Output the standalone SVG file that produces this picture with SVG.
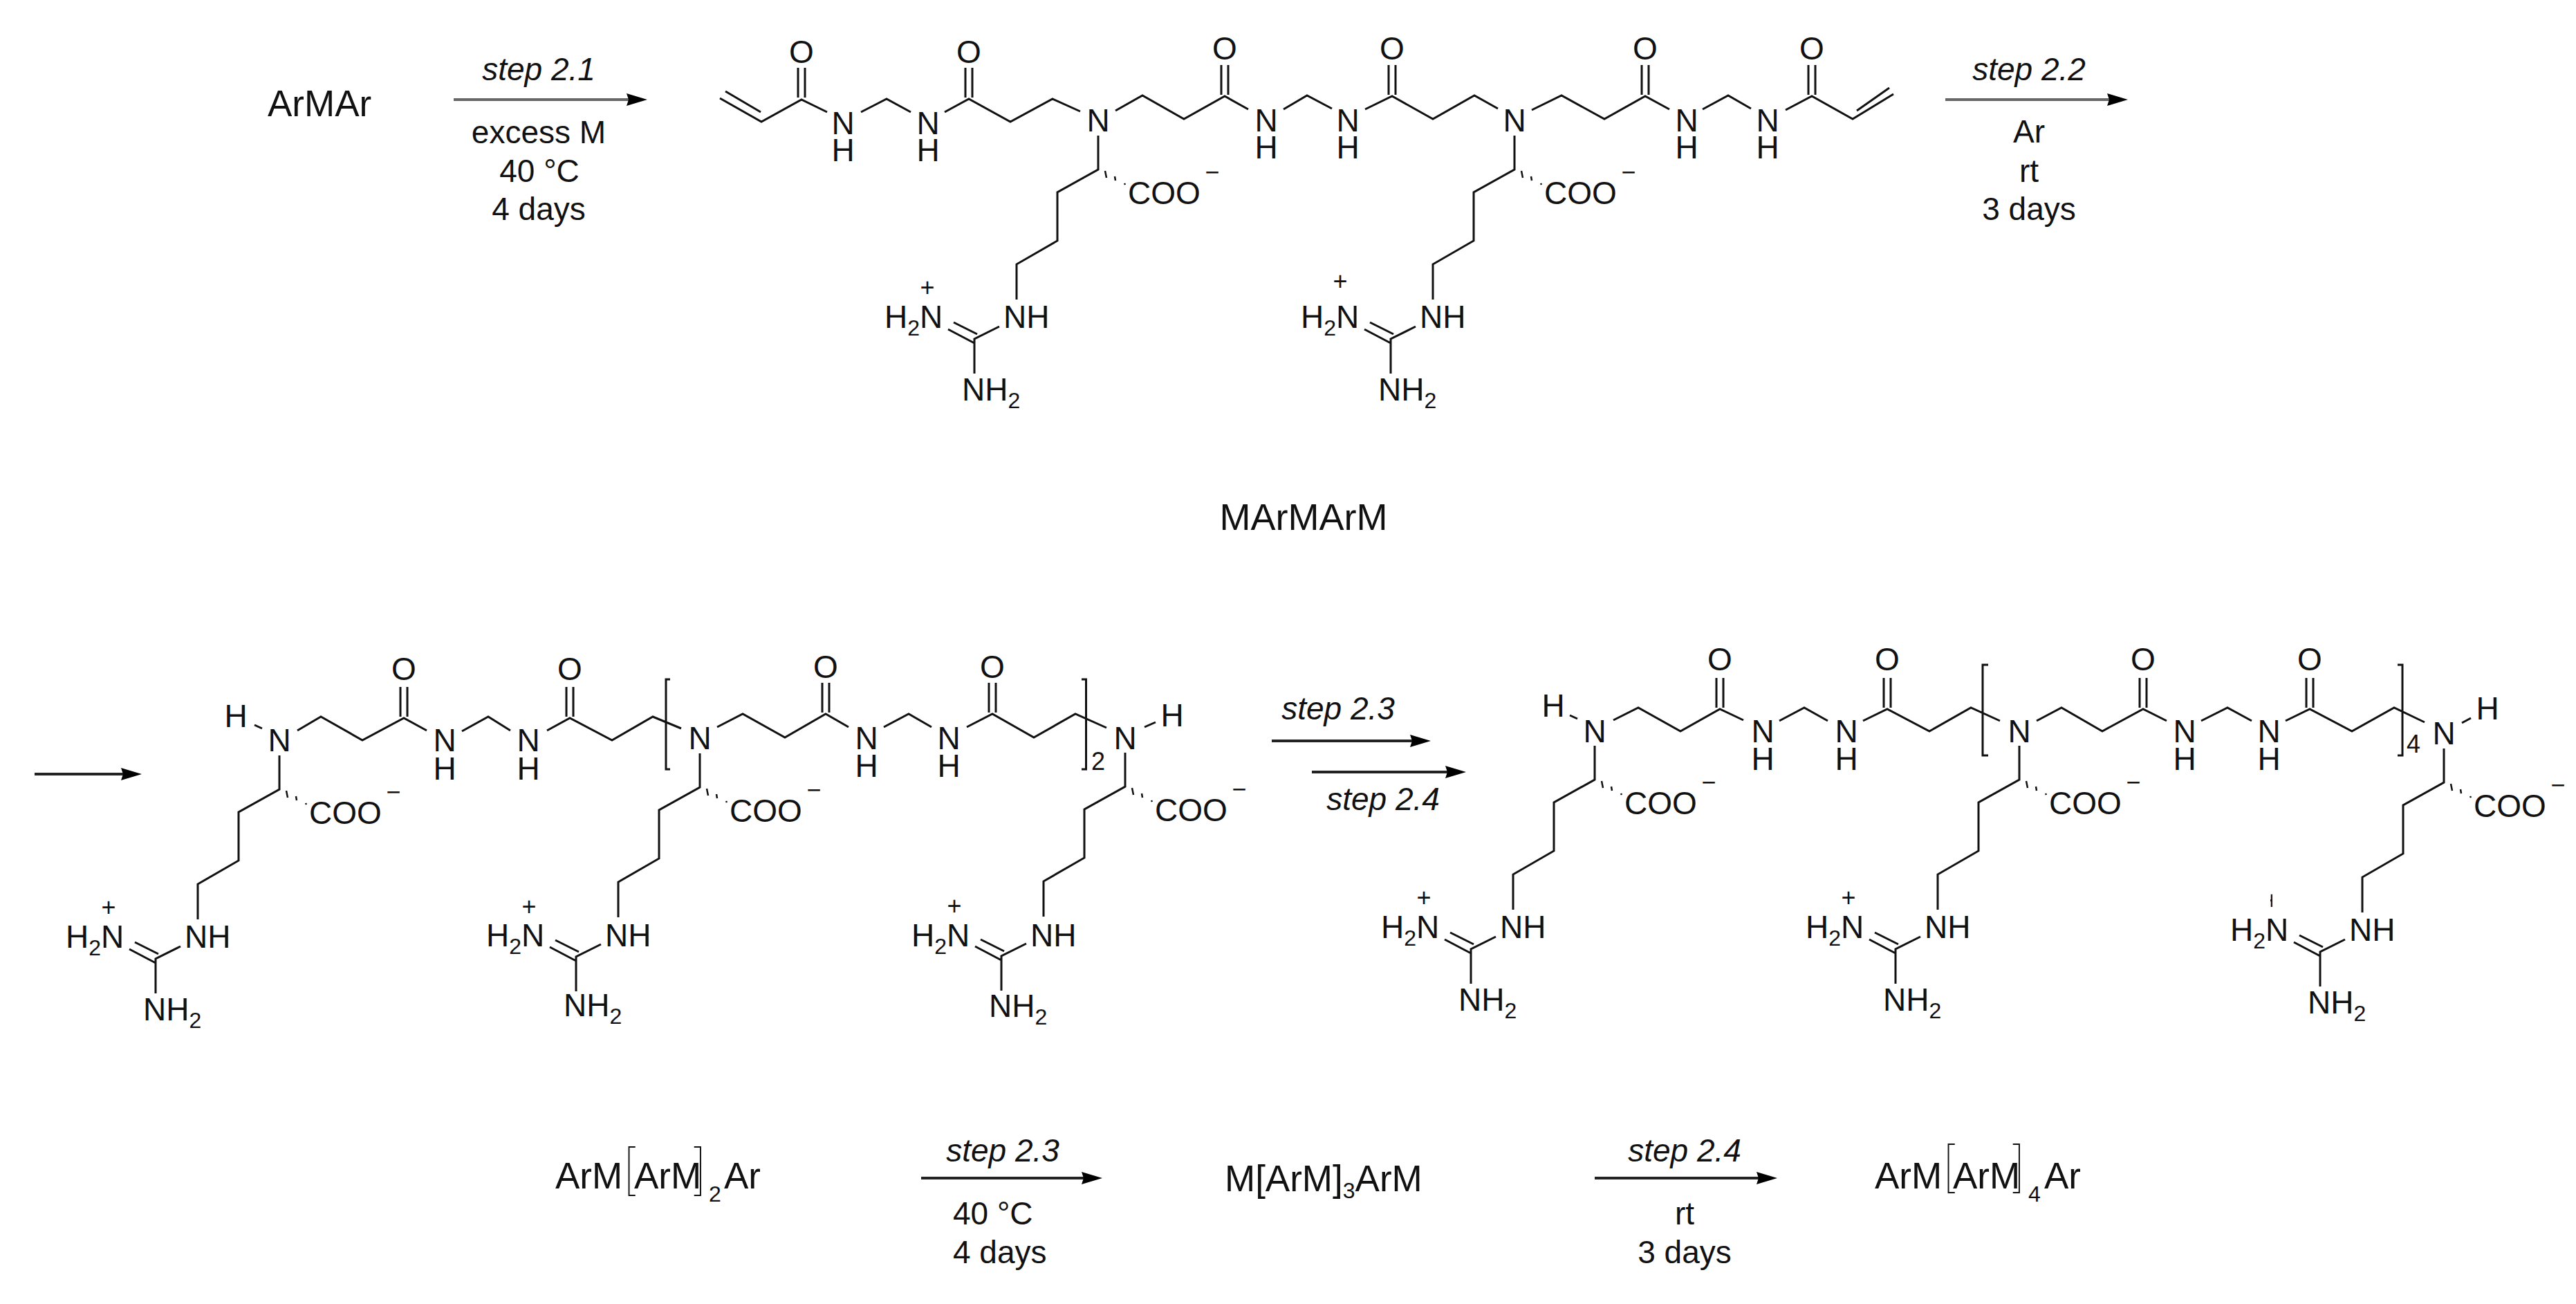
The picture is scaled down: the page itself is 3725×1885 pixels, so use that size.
<svg xmlns="http://www.w3.org/2000/svg" width="3725" height="1885" viewBox="0 0 3725 1885">
<style>
text{font-family:"Liberation Sans",Arial,sans-serif;fill:#111}
.a{font-size:46px}
.m{font-size:46px;text-anchor:middle}
.i{font-size:46px;font-style:italic;text-anchor:middle}
.l{font-size:53px}
.c{font-size:36px;text-anchor:middle}
.t{font-size:32px}
.br{font-size:74px;font-family:Roboto,"Liberation Sans",sans-serif;font-weight:100}
.b{fill:none;stroke:#111;stroke-width:3}
.h{fill:none;stroke:#111;stroke-width:2.5}
.ar{stroke:#222;stroke-width:4;fill:none;marker-end:url(#head)}
.ag{stroke:#666;stroke-width:4;fill:none;marker-end:url(#head)}
</style>
<defs>
<marker id="head" markerUnits="userSpaceOnUse" markerWidth="30" markerHeight="20" viewBox="0 0 30 20" refX="20" refY="10" orient="auto"><path d="M0 1L30 10L0 19L3 10Z" fill="#000"/></marker>
<path id="co" class="b" d="M-5 -46V-3M5 -46V-3"/>
<g id="arg">
<path class="b" d="M0 22V71L-59 104V174L-118 208V259M-143 298L-179 316V366M-209 292L-175 309M-217 302L-179 322"/>
<path class="h" d="M10 73L12 83M24 81L25 87M38 91L39 93"/>
</g>
<clipPath id="tick"><rect x="-251" y="225" width="3" height="32"/></clipPath>
</defs>
<rect width="3725" height="1885" fill="#fff"/>

<g id="connectors">
<line class="ag" x1="656" y1="144" x2="926" y2="144"/>
<line class="ag" x1="2813" y1="144" x2="3067" y2="144"/>
<line class="ar" x1="50" y1="1119" x2="195" y2="1119"/>
<line class="ar" x1="1839" y1="1071" x2="2059" y2="1071"/>
<line class="ar" x1="1897" y1="1116" x2="2110" y2="1116"/>
<line class="ar" x1="1332" y1="1703" x2="1584" y2="1703"/>
<line class="ar" x1="2306" y1="1703" x2="2560" y2="1703"/>
</g>

<g id="label-armar"><text class="l" x="387" y="168">ArMAr</text></g>
<g id="step-2-1">
<text class="i" x="779" y="116">step 2.1</text>
<text class="m" x="779" y="207">excess M</text>
<text class="m" x="780" y="263">40 °C</text>
<text class="m" x="779" y="318">4 days</text>
</g>
<g id="step-2-2">
<text class="i" x="2934" y="116">step 2.2</text>
<text class="m" x="2934" y="206">Ar</text>
<text class="m" x="2934" y="263">rt</text>
<text class="m" x="2934" y="318">3 days</text>
</g>

<g id="mol-marmarm">
<path class="b" d="M1041 142L1101 176L1159 144L1196 162M1049 132L1100 162M1245 162L1282 143L1317 162M1366 162L1401 143L1461 176L1522 143L1562 161M1613 160L1652 138L1712 172L1771 139L1805 158M1856 158L1890 138L1926 157M1974 158L2013 139L2072 172L2132 138L2166 157M2215 159L2258 138L2320 172L2379 139L2414 158M2462 158L2499 138L2532 157M2582 159L2620 139L2679 172L2738 136M2685 160L2732 127"/>
<use href="#co" x="1159" y="144"/><use href="#co" x="1401" y="144"/><use href="#co" x="1771" y="140"/><use href="#co" x="2013" y="140"/><use href="#co" x="2379" y="140"/><use href="#co" x="2620" y="140"/>
<text class="m" x="1159" y="91">O</text><text class="m" x="1401" y="91">O</text><text class="m" x="1771" y="86">O</text><text class="m" x="2013" y="86">O</text><text class="m" x="2379" y="86">O</text><text class="m" x="2620" y="86">O</text>
<text class="m" x="1219" y="194">N</text><text class="m" x="1219" y="233">H</text>
<text class="m" x="1342" y="194">N</text><text class="m" x="1342" y="233">H</text>
<text class="m" x="1588" y="190">N</text>
<text class="m" x="1831" y="190">N</text><text class="m" x="1831" y="229">H</text>
<text class="m" x="1949" y="190">N</text><text class="m" x="1949" y="229">H</text>
<text class="m" x="2190" y="190">N</text>
<text class="m" x="2439" y="190">N</text><text class="m" x="2439" y="229">H</text>
<text class="m" x="2556" y="190">N</text><text class="m" x="2556" y="229">H</text>
<g transform="translate(1588 174)"><use href="#arg"/><text class="a" x="-137" y="300">NH</text><text class="a" x="-309" y="300">H<tspan class="t" dy="11">2</tspan><tspan dy="-11">N</tspan></text><text class="a" x="-197" y="405">NH<tspan class="t" dy="11">2</tspan></text><text class="a" x="43" y="121">COO</text><text class="c" x="165" y="87">−</text><text class="c" x="-247" y="254">+</text></g>
<g transform="translate(2190 174)"><use href="#arg"/><text class="a" x="-137" y="300">NH</text><text class="a" x="-309" y="300">H<tspan class="t" dy="11">2</tspan><tspan dy="-11">N</tspan></text><text class="a" x="-197" y="405">NH<tspan class="t" dy="11">2</tspan></text><text class="a" x="43" y="121">COO</text><text class="c" x="165" y="87">−</text><text class="c" x="-252" y="245">+</text></g>
</g>
<g id="label-marmarm"><text x="1885" y="766" font-size="54" text-anchor="middle">MArMArM</text></g>

<g id="mol-armarm2ar">
<path class="b" d="M368 1048L379 1053M430 1056L464 1036L524 1070L584 1038L617 1056M668 1057L706 1036L738 1056M791 1056L824 1038L885 1070L944 1036L985 1053M1037 1051L1074 1032L1135 1066L1194 1032L1227 1051M1278 1051L1314 1032L1347 1051M1398 1051L1435 1032L1495 1066L1555 1032L1600 1052M1655 1051L1671 1044M969 982H963V1112H969M1564 982H1570.500V1112H1564"/>
<use href="#co" x="584" y="1039"/><use href="#co" x="824" y="1039"/><use href="#co" x="1194" y="1033"/><use href="#co" x="1435" y="1033"/>
<text class="m" x="584" y="983">O</text><text class="m" x="824" y="983">O</text><text class="m" x="1194" y="980">O</text><text class="m" x="1435" y="980">O</text>
<text class="m" x="341" y="1051">H</text><text class="m" x="404" y="1086">N</text>
<text class="m" x="643" y="1086">N</text><text class="m" x="643" y="1127">H</text>
<text class="m" x="764" y="1086">N</text><text class="m" x="764" y="1127">H</text>
<text class="m" x="1012" y="1083">N</text>
<text class="m" x="1253" y="1083">N</text><text class="m" x="1253" y="1123">H</text>
<text class="m" x="1372" y="1083">N</text><text class="m" x="1372" y="1123">H</text>
<text class="m" x="1627" y="1083">N</text><text class="m" x="1695" y="1050">H</text>
<text class="c" x="1588" y="1113">2</text>
<g transform="translate(404 1070)"><use href="#arg"/><text class="a" x="-137" y="300">NH</text><text class="a" x="-309" y="300">H<tspan class="t" dy="11">2</tspan><tspan dy="-11">N</tspan></text><text class="a" x="-197" y="405">NH<tspan class="t" dy="11">2</tspan></text><text class="a" x="43" y="121">COO</text><text class="c" x="165" y="87">−</text><text class="c" x="-247" y="254">+</text></g>
<g transform="translate(1012 1067)"><use href="#arg"/><text class="a" x="-137" y="301">NH</text><text class="a" x="-309" y="301">H<tspan class="t" dy="11">2</tspan><tspan dy="-11">N</tspan></text><text class="a" x="-197" y="402">NH<tspan class="t" dy="11">2</tspan></text><text class="a" x="43" y="121">COO</text><text class="c" x="165" y="87">−</text><text class="c" x="-247" y="256">+</text></g>
<g transform="translate(1627 1066)"><use href="#arg"/><text class="a" x="-137" y="302">NH</text><text class="a" x="-309" y="302">H<tspan class="t" dy="11">2</tspan><tspan dy="-11">N</tspan></text><text class="a" x="-197" y="404">NH<tspan class="t" dy="11">2</tspan></text><text class="a" x="43" y="121">COO</text><text class="c" x="165" y="87">−</text><text class="c" x="-247" y="256">+</text></g>
</g>

<g id="step-2-3-over"><text class="i" x="1935" y="1040">step 2.3</text></g>
<g id="step-2-4-under"><text class="i" x="2000" y="1171">step 2.4</text></g>

<g id="mol-armarm4ar">
<path class="b" d="M2270 1034L2281 1039M2333 1041L2369 1023L2430 1057L2487 1025L2521 1041M2573 1042L2609 1023L2643 1042M2694 1042L2729 1025L2790 1057L2850 1023L2892 1042M2945 1042L2981 1023L3040 1057L3099 1025L3133 1042M3183 1042L3221 1023L3256 1042M3305 1042L3340 1025L3401 1057L3462 1023L3506 1044M3560 1045L3573 1038M2875 961H2867V1092H2875M3467 961H3474V1092H3467"/>
<use href="#co" x="2487" y="1026"/><use href="#co" x="2729" y="1026"/><use href="#co" x="3099" y="1026"/><use href="#co" x="3340" y="1026"/>
<text class="m" x="2487" y="969">O</text><text class="m" x="2729" y="969">O</text><text class="m" x="3099" y="969">O</text><text class="m" x="3340" y="969">O</text>
<text class="m" x="2246" y="1036">H</text><text class="m" x="2306" y="1073">N</text>
<text class="m" x="2549" y="1073">N</text><text class="m" x="2549" y="1113">H</text>
<text class="m" x="2670" y="1073">N</text><text class="m" x="2670" y="1113">H</text>
<text class="m" x="2920" y="1073">N</text>
<text class="m" x="3159" y="1073">N</text><text class="m" x="3159" y="1113">H</text>
<text class="m" x="3281" y="1073">N</text><text class="m" x="3281" y="1113">H</text>
<text class="m" x="3534" y="1076">N</text><text class="m" x="3597" y="1040">H</text>
<text class="c" x="3490" y="1088">4</text>
<g transform="translate(2306 1056)"><use href="#arg"/><text class="a" x="-137" y="300">NH</text><text class="a" x="-309" y="300">H<tspan class="t" dy="11">2</tspan><tspan dy="-11">N</tspan></text><text class="a" x="-197" y="405">NH<tspan class="t" dy="11">2</tspan></text><text class="a" x="43" y="121">COO</text><text class="c" x="165" y="87">−</text><text class="c" x="-247" y="254">+</text></g>
<g transform="translate(2920 1056)"><use href="#arg"/><text class="a" x="-137" y="300">NH</text><text class="a" x="-309" y="300">H<tspan class="t" dy="11">2</tspan><tspan dy="-11">N</tspan></text><text class="a" x="-197" y="405">NH<tspan class="t" dy="11">2</tspan></text><text class="a" x="43" y="121">COO</text><text class="c" x="165" y="87">−</text><text class="c" x="-247" y="254">+</text></g>
<g transform="translate(3534 1060)"><use href="#arg"/><text class="a" x="-137" y="300">NH</text><text class="a" x="-309" y="300">H<tspan class="t" dy="11">2</tspan><tspan dy="-11">N</tspan></text><text class="a" x="-197" y="405">NH<tspan class="t" dy="11">2</tspan></text><text class="a" x="43" y="121">COO</text><text class="c" x="165" y="87">−</text><text class="c" x="-249" y="254" clip-path="url(#tick)">+</text></g>
</g>

<g id="label-armarm2ar"><text class="l" x="803" y="1718">ArM<tspan class="br" x="902" y="1718">[</tspan><tspan x="917" y="1718">ArM</tspan><tspan class="br" x="1004" y="1718">]</tspan><tspan class="t" x="1025" y="1737">2</tspan><tspan x="1047" y="1718">Ar</tspan></text></g>
<g id="step-2-3">
<text class="i" x="1450" y="1679">step 2.3</text>
<text class="a" x="1378" y="1770">40 °C</text>
<text class="a" x="1378" y="1826">4 days</text>
</g>
<g id="label-marm3arm"><text class="l" x="1771" y="1722">M[ArM]<tspan class="t" dy="10">3</tspan><tspan dy="-10">ArM</tspan></text></g>
<g id="step-2-4">
<text class="i" x="2436" y="1679">step 2.4</text>
<text class="m" x="2436" y="1770">rt</text>
<text class="m" x="2436" y="1826">3 days</text>
</g>
<g id="label-armarm4ar"><text class="l" x="2711" y="1718">ArM<tspan class="br" x="2810" y="1714">[</tspan><tspan x="2824" y="1718">ArM</tspan><tspan class="br" x="2911" y="1714">]</tspan><tspan class="t" x="2933" y="1737">4</tspan><tspan x="2956" y="1718">Ar</tspan></text></g>
</svg>
